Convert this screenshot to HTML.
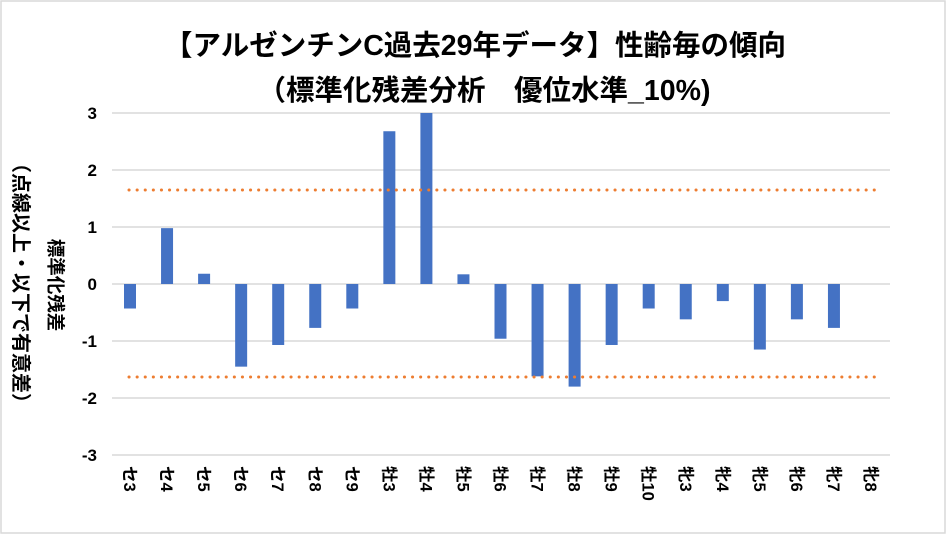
<!DOCTYPE html>
<html><head><meta charset="utf-8"><style>
html,body{margin:0;padding:0;background:#fff}
svg{display:block}
text{font-family:"Liberation Sans","Noto Sans CJK JP",sans-serif;font-weight:bold;fill:#000}
</style></head><body>
<svg width="946" height="534" viewBox="0 0 946 534" xmlns="http://www.w3.org/2000/svg">
<rect x="1" y="1" width="944" height="532" fill="#fff" stroke="#d9d9d9" stroke-width="1.5"/>
<text x="475" y="55" font-size="28.5" text-anchor="middle">【アルゼンチンC過去29年データ】性齢毎の傾向</text>
<text x="484" y="100" font-size="28.5" text-anchor="middle">（標準化残差分析　優位水準_10%)</text>
<g stroke="#d9d9d9" stroke-width="1.5">
<line x1="112" x2="890" y1="113" y2="113"/>
<line x1="112" x2="890" y1="170" y2="170"/>
<line x1="112" x2="890" y1="227" y2="227"/>
<line x1="112" x2="890" y1="284" y2="284"/>
<line x1="112" x2="890" y1="341" y2="341"/>
<line x1="112" x2="890" y1="398" y2="398"/>
<line x1="112" x2="890" y1="455" y2="455"/>
</g>
<g font-size="17" text-anchor="end">
<text x="97" y="119">3</text><text x="97" y="176">2</text><text x="97" y="233">1</text>
<text x="97" y="290">0</text><text x="97" y="347">-1</text><text x="97" y="404">-2</text><text x="97" y="461">-3</text>
</g>
<g fill="#4472c4" id="bars"></g>
<g stroke="#ed7d31" stroke-width="3" stroke-dasharray="0.1 8" stroke-linecap="round">
<line x1="129" x2="880" y1="190" y2="190"/>
<line x1="129" x2="880" y1="377" y2="377"/>
</g>
<g id="labels" font-size="16.5"></g>
<text transform="translate(49,285) rotate(90)" font-size="18.5" text-anchor="middle">標準化残差</text>
<text transform="translate(14,283) rotate(90)" font-size="20" text-anchor="middle">（点線以上・以下で有意差）</text>
<script>
var v=[-0.43,0.98,0.18,-1.45,-1.07,-0.77,-0.43,2.68,3.0,0.17,-0.96,-1.62,-1.8,-1.07,-0.43,-0.62,-0.3,-1.15,-0.62,-0.77,0];
var l=["セ3","セ4","セ5","セ6","セ7","セ8","セ9","牡3","牡4","牡5","牡6","牡7","牡8","牡9","牡10","牝3","牝4","牝5","牝6","牝7","牝8"];
var ns="http://www.w3.org/2000/svg",b=document.getElementById("bars"),g=document.getElementById("labels");
for(var i=0;i<21;i++){var cx=130+37.05*i;
if(v[i]!=0){var r=document.createElementNS(ns,"rect");var y0=284-v[i]*57;
r.setAttribute("x",cx-6);r.setAttribute("width",12);r.setAttribute("y",Math.min(y0,284));r.setAttribute("height",Math.abs(v[i]*57));b.appendChild(r);}
var t=document.createElementNS(ns,"text");t.setAttribute("transform","translate("+(cx-6)+",466) rotate(90)");t.textContent=l[i];g.appendChild(t);}
</script>
</svg>
</body></html>
